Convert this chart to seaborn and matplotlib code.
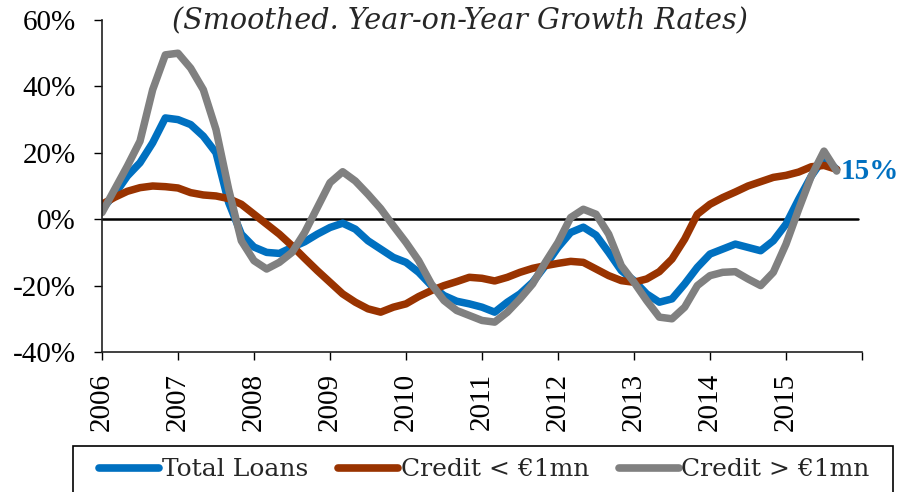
import numpy as np
import pandas as pd
import matplotlib
matplotlib.use("Agg")
import matplotlib.pyplot as plt
import seaborn as sns
from matplotlib.lines import Line2D
from matplotlib.patches import Rectangle

# ---- data (bi-monthly, smoothed y/y growth in %) ----
months = np.arange(0, 117, 2)          # months since Jan 2006
t = 2006 + months / 12.0

total_loans = [3, 7.5, 13, 17, 23, 30.5, 30, 28.5, 25, 20,
               5, -4.5, -8.4, -10, -10.3, -8.5, -6.8, -4.5, -2.5, -1.2,
               -3, -6.5, -9, -11.5, -13, -16, -20, -23, -24.7, -25.5,
               -26.5, -28, -25, -22.5, -19, -14, -8.5, -4, -2.4, -4.8,
               -10, -15.5, -18.5, -22.5, -25, -24, -19.5, -14.5, -10.5, -9,
               -7.5, -8.5, -9.5, -6.5, -1.5, 6, 13, 18.5, 15]

credit_small = [4.5, 6.6, 8.4, 9.5, 10, 9.8, 9.4, 8, 7.3, 7,
                6.2, 4.5, 1.5, -1.5, -4.5, -8, -11.8, -15.5, -19, -22.5,
                -25, -27, -28, -26.5, -25.5, -23.3, -21.5, -20, -18.8, -17.5,
                -17.8, -18.6, -17.5, -16, -14.8, -14, -13.3, -12.7, -13, -15,
                -17, -18.5, -19, -18, -15.8, -12, -6, 1.5, 4.5, 6.5,
                8.2, 10, 11.3, 12.6, 13.2, 14.2, 15.8, 16.2, 15]

credit_large = [2, 9, 16, 23.5, 39, 49.5, 50, 45.5, 39, 27,
                9, -6.5, -12.5, -15, -13, -10, -4, 3.5, 11, 14.3,
                11.5, 7.5, 3.2, -2, -7, -12.5, -19.5, -24.5, -27.5, -29,
                -30.5, -31, -28, -24, -19.5, -13, -7, 0.5, 3, 1.5,
                -4.5, -14, -19, -24.5, -29.5, -30, -26.5, -20, -17, -16,
                -15.8, -18, -20, -16, -7.5, 3, 13, 20.5, 14.5]

series_names = ["Total Loans", "Credit < €1mn", "Credit > €1mn"]
series_colors = ["#0070C0", "#993300", "#808080"]
year_ticks = list(range(2006, 2017))
year_labels = [str(y) for y in range(2006, 2016)] + [""]
y_ticks = [-40, -20, 0, 20, 40, 60]
title_text = "(Smoothed. Year-on-Year Growth Rates)"

df = pd.DataFrame({
    "t": np.concatenate([t, t, t]),
    "value": total_loans + credit_small + credit_large,
    "series": [series_names[0]] * len(t) + [series_names[1]] * len(t) + [series_names[2]] * len(t),
})

sns.set_style("white")
plt.rcParams["font.family"] = ["Liberation Serif", "DejaVu Serif"]

fig = plt.figure(figsize=(8.99, 4.92), dpi=100)
ax = fig.add_axes([102 / 899, 1 - 352 / 492, 760 / 899, 332 / 492])

ax.axhline(0, color="black", lw=1.8, xmin=0, xmax=0.995, zorder=1.5)

sns.lineplot(data=df, x="t", y="value", hue="series", hue_order=series_names,
             palette=dict(zip(series_names, series_colors)), linewidth=5.4,
             ax=ax, legend=False, sort=False, zorder=2)
for ln in ax.lines:
    ln.set_solid_capstyle("round")
    ln.set_solid_joinstyle("round")

ax.set_xlim(2006, 2016)
ax.set_ylim(-40, 60)
ax.set_xticks(year_ticks)
ax.set_xticklabels(year_labels, rotation=90)
ax.set_yticks(y_ticks)
ax.set_yticklabels([f"{v}%" for v in y_ticks])
ax.set_xlabel("")
ax.set_ylabel("")
ax.tick_params(axis="x", length=6, width=1, pad=9, labelsize=21, colors="black", direction="out", bottom=True)
ax.tick_params(axis="y", length=6, width=1, pad=13, labelsize=21, colors="black", direction="out", left=True)
sns.despine(ax=ax)
for s in ["left", "bottom"]:
    ax.spines[s].set_color("#202020")
    ax.spines[s].set_linewidth(1.2)

# end label
ax.text(t[-1] + 0.05, total_loans[-1] - 0.5, f"{total_loans[-1]:.0f}%", color=series_colors[0],
        fontsize=21, fontweight="bold", ha="left", va="center", family=["Liberation Serif"])

# title
fig.text(460 / 899, 1 - 21 / 492, title_text, ha="center", va="center",
         fontsize=20.6, fontstyle="italic", family=["DejaVu Serif"])

# legend
handles = [Line2D([0], [0], color=c, lw=5.5, solid_capstyle="round") for c in series_colors]
fig.legend(handles, series_names, loc="center", bbox_to_anchor=(484.5 / 899, 1 - 470 / 492),
           ncol=3, frameon=False, prop={"family": "DejaVu Serif", "size": 18},
           handlelength=2.4, handletextpad=0.1, columnspacing=1.2)
fig.patches.append(Rectangle((73 / 899, -0.05), 820 / 899, 0.05 + (492 - 446) / 492,
                             transform=fig.transFigure, fill=False, edgecolor="black", lw=1.2))

fig.savefig("out.png", dpi=100)
